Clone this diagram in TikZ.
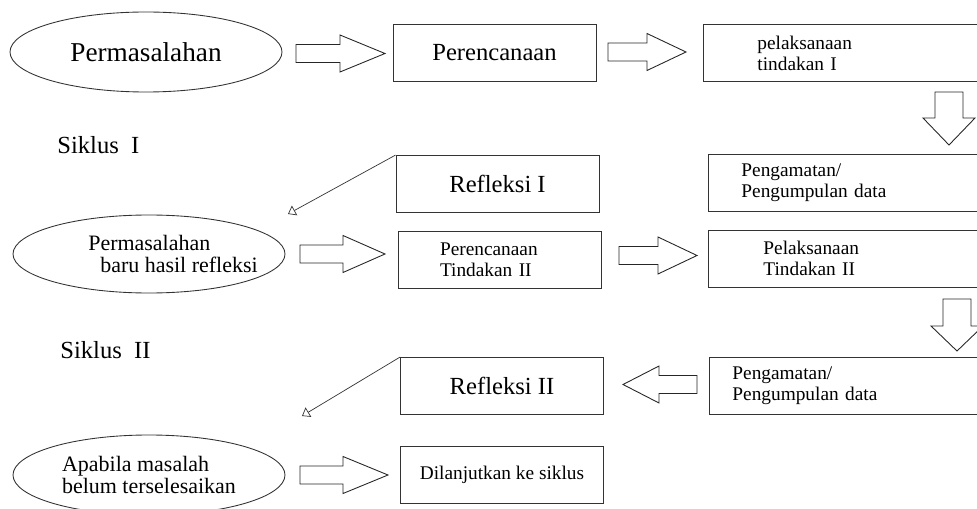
\documentclass[tikz,border=0pt]{standalone}
\usepackage{fontspec}
\setmainfont{Liberation Serif}
\usetikzlibrary{arrows.meta, shapes.geometric, positioning}
\tikzset{
  oval/.style  ={draw=black!80, ellipse, minimum width=54.4mm, minimum height=16mm, inner sep=0pt, line width=0.5pt},
  box/.style   ={draw=black!80, rectangle, minimum width=40.6mm, minimum height=11.4mm, inner sep=0pt, line width=0.5pt},
  rbox/.style  ={draw=black!80, rectangle, anchor=west, minimum height=11.4mm, inner ysep=0pt, align=left, line width=0.5pt},
  blk/.style   ={draw=black!85, fill=white, line width=0.5pt, line join=miter},
  back/.style  ={-{Triangle[open, length=1.5mm, width=2.2mm]}, line width=0.4pt, draw=black!80},
  sikl/.style  ={anchor=west, inner sep=0pt, font=\fontsize{14}{16}\selectfont},
  big/.style   ={font=\fontsize{14}{16}\selectfont},
  txt/.style   ={font=\fontsize{11}{12}\selectfont},
  otxt/.style  ={font=\fontsize{12.5}{12.5}\selectfont},
}
% hollow block arrows: tail, tip, level, start of head
\newcommand{\harrow}[4]{%
  \draw[blk] (#1,#3-9) -- (#4,#3-9) -- (#4,#3-18.5) -- (#2,#3) -- (#4,#3+18.5) -- (#4,#3+9) -- (#1,#3+9) -- cycle;}
\newcommand{\varrow}[4]{%
  \draw[blk] (#1-14,#2) -- (#1-14,#4) -- (#1-26,#4) -- (#1,#3) -- (#1+26,#4) -- (#1+14,#4) -- (#1+14,#2) -- cycle;}

\begin{document}
\begin{tikzpicture}[x=0.2mm, y=-0.2mm]
  \useasboundingbox (0,0) rectangle (977,509);
  \clip (0,0) rectangle (977,509);
  % siklus I
  \node[oval, font=\fontsize{15.5}{17}\selectfont] (mas1) at (146,52) {Permasalahan};
  \node[box, big] (per1) at (494.5,53) {Perencanaan};
  \node[rbox, txt, inner xsep=10.8mm, text width=38.4mm] (pel1) at (703,53) {pelaksanaan\\tindakan I};
  \node[sikl] (sik1) at (57,145) {Siklus\ \ I};
  \node[box, big] (ref1) at (497.5,184) {Refleksi I};
  \node[rbox, txt, inner xsep=6.6mm, text width=46.8mm] (amat1) at (708,182.5) {Pengamatan/\\Pengumpulan data};
  \harrow{296}{385}{53.5}{340}
  \harrow{608}{686}{52}{647}
  \varrow{949}{92}{145}{118}
  \coordinate (b1) at (288,214);
  \draw[back] (ref1.north west) -- (b1);
  % siklus II
  \node[oval, otxt, minimum height=15.6mm, inner xsep=-5mm, align=left] (mas2) at (149,254) {\hspace*{9.6mm}Permasalahan\\\hspace*{12mm}baru hasil refleksi};
  \node[box, txt, align=left, text width=24mm] (per2) at (500,260) {Perencanaan\\Tindakan II};
  \node[rbox, txt, inner xsep=11mm, text width=38mm] (pel2) at (708,258.5) {Pelaksanaan\\Tindakan II};
  \node[sikl] (sik2) at (60,350) {Siklus\ \ II};
  \node[box, big] (ref2) at (502,386) {Refleksi II};
  \node[rbox, txt, inner xsep=4.6mm, text width=50.8mm] (amat2) at (709,386) {Pengamatan/\\Pengumpulan data};
  \harrow{300}{385}{254}{343}
  \harrow{619}{697}{255.5}{658}
  \varrow{957}{299}{351}{326}
  \harrow{697}{623}{384.5}{659}
  \coordinate (b2) at (302,416);
  \draw[back] (ref2.north west) -- (b2);
  % lanjut
  \node[oval, otxt, inner xsep=-3mm, align=left] (mas3) at (149,475) {Apabila masalah\\belum terselesaikan};
  \node[box, txt] (lanjut) at (502,474.5) {Dilanjutkan ke siklus};
  \harrow{300}{388}{475}{343}
\end{tikzpicture}
\end{document}
